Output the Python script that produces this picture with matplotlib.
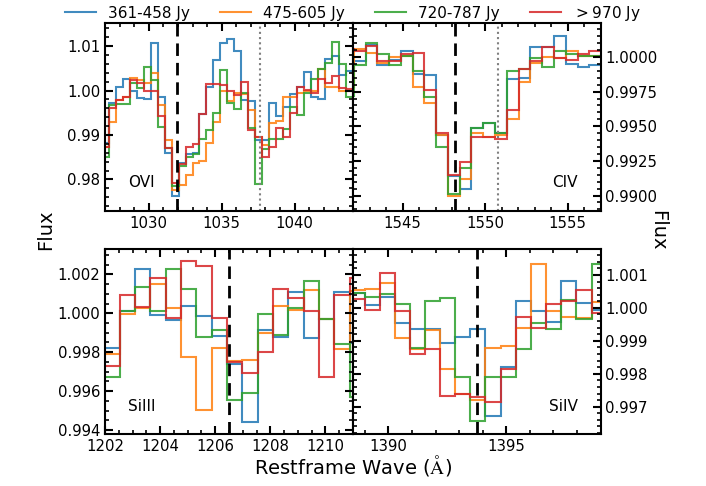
import numpy as np
import matplotlib.pyplot as plt
from matplotlib.ticker import MultipleLocator, ScalarFormatter

# spectra are binned on a log-lambda pixel grid, log10(wave) = dlog * pixel
dlog = 0.0002
ovi_pix = np.arange(15058, 15094)
civ_pix = np.arange(15940, 15962)
si3_pix = np.arange(15400, 15417)
si4_pix = np.arange(15713, 15730)

labels = ['361-458 Jy', '475-605 Jy', '720-787 Jy', r'$>$970 Jy']
colors = ['#1f77b4', '#ff7f0e', '#2ca02c', '#d62728']

# OVI
ovi_blue = [0.9881, 0.9973, 1.0008, 1.0026, 0.9998, 0.9983, 0.9981, 1.0107, 0.9986, 0.9860,
            0.9763, 0.9836, 0.9857, 0.9859, 0.9947, 1.0008, 1.0069, 1.0108, 1.0116, 1.0090,
            0.9979, 0.9977, 0.9889, 0.9889, 0.9971, 0.9943, 0.9962, 0.9992, 1.0009, 1.0041,
            0.9986, 0.9980, 1.0071, 1.0078, 1.0035, 1.0045]
ovi_orange = [0.9874, 0.9930, 0.9979, 0.9986, 1.0028, 1.0024, 1.0017, 1.0039, 0.9968, 0.9889,
              0.9776, 0.9787, 0.9810, 0.9838, 0.9842, 0.9881, 0.9930, 0.9998, 0.9977, 0.9995,
              0.9992, 0.9956, 0.9896, 0.9877, 0.9926, 0.9932, 0.9986, 0.9986, 0.9995, 0.9998,
              0.9998, 1.0048, 1.0008, 1.0008, 0.9998, 0.9998]
ovi_green = [0.9851, 0.9968, 0.9970, 0.9970, 1.0017, 1.0005, 1.0053, 1.0023, 0.9917, 0.9870,
             0.9785, 0.9830, 0.9850, 0.9857, 0.9890, 0.9911, 0.9950, 1.0047, 0.9971, 0.9959,
             0.9994, 0.9915, 0.9789, 0.9868, 0.9892, 0.9890, 0.9913, 0.9964, 0.9945, 0.9995,
             1.0026, 1.0048, 1.0063, 1.0110, 1.0059, 0.9986]
ovi_red = [0.9874, 0.9960, 0.9979, 0.9986, 1.0024, 1.0017, 0.9998, 0.9998, 0.9943, 0.9870,
           0.9791, 0.9835, 0.9874, 0.9880, 0.9947, 1.0015, 1.0015, 1.0013, 0.9998, 0.9990,
           1.0019, 0.9911, 0.9896, 0.9851, 0.9874, 0.9915, 0.9896, 0.9949, 1.0009, 1.0001,
           0.9995, 1.0026, 1.0018, 1.0033, 1.0005, 1.0003]

# CIV
civ_blue = [0.9992, 0.9997, 1.0009, 0.9994, 0.9998, 1.0004, 0.9988, 0.9987, 0.9944, 0.9914, 0.9905,
            0.9949, 0.9952, 0.9945, 0.9984, 0.9985, 1.0007, 1.0007, 1.0015, 0.9995, 0.9993, 0.9994]
civ_orange = [0.9978, 1.0006, 1.0003, 0.9996, 1.0000, 1.0001, 0.9978, 0.9967, 0.9944, 0.9900, 0.9912,
              0.9945, 0.9942, 0.9944, 0.9955, 0.9982, 0.9996, 1.0000, 0.9999, 1.0004, 1.0001, 1.0001]
civ_green = [0.9972, 0.9994, 1.0010, 1.0002, 0.9994, 1.0001, 0.9990, 0.9971, 0.9935, 0.9901, 0.9920,
             0.9949, 0.9952, 0.9945, 0.9990, 0.9991, 0.9999, 0.9993, 1.0004, 1.0002, 1.0001, 1.0001]
civ_red = [1.0006, 1.0004, 1.0008, 0.9997, 0.9997, 1.0002, 1.0003, 0.9976, 0.9945, 0.9915, 0.9924,
           0.9942, 0.9942, 0.9941, 0.9962, 0.9991, 0.9997, 1.0007, 0.9999, 0.9998, 1.0002, 1.0004]

# SiIII
si3_blue = [0.99820, 1.00013, 1.00227, 0.99991, 0.99965, 1.00039, 0.99986, 0.99883, 0.99739,
            0.99443, 0.99914, 0.99880, 1.00111, 0.99871, 0.99970, 1.00111, 0.99845]
si3_orange = [0.99790, 0.99996, 1.00025, 1.00148, 1.00029, 0.99777, 0.99503, 0.99823, 0.99756,
              0.99760, 0.99897, 1.00039, 1.00017, 1.00121, 0.99970, 0.99815, 1.00116]
si3_green = [0.99674, 1.00013, 1.00133, 1.00011, 1.00227, 1.00123, 0.99880, 0.99914, 0.99554,
             0.99592, 0.99996, 0.99888, 1.00025, 1.00167, 0.99970, 0.99842, 0.99571]
si3_red = [0.99729, 1.00094, 1.00034, 1.00179, 0.99974, 1.00270, 1.00243, 0.99977, 0.99751,
           0.99691, 0.99803, 1.00124, 1.00077, 1.00011, 0.99674, 1.00094, 1.00179]

# SiIV
si4_blue = [1.00046, 1.00009, 1.00032, 0.99953, 0.99935, 0.99935, 0.99892, 0.99913, 0.99935,
            0.99673, 0.99819, 1.00021, 0.99992, 0.99958, 1.00082, 1.00016, 0.99994]
si4_orange = [1.00054, 1.00056, 1.00077, 0.99908, 0.99874, 0.99933, 0.99814, 0.99739, 0.99720,
              0.99877, 0.99884, 0.99938, 1.00133, 0.99992, 0.99973, 0.99968, 1.00017]
si4_green = [1.00046, 1.00032, 1.00042, 1.00011, 0.99877, 1.00022, 1.00029, 0.99791, 0.99657,
             0.99791, 0.99791, 0.99874, 0.99955, 0.99935, 1.00024, 0.99965, 1.00132]
si4_red = [1.00026, 0.99994, 1.00105, 0.99992, 0.99859, 0.99874, 0.99732, 0.99739, 0.99728,
           0.99713, 0.99813, 0.99971, 0.99940, 1.00011, 1.00021, 1.00054, 0.99986]


def pixel_edges(pix):
    p = np.append(pix, pix[-1] + 1) - 0.5
    return 10 ** (dlog * p)


fig = plt.figure(figsize=(7.06, 4.86), dpi=100)
ax1 = fig.add_axes([0.1487, 0.5658, 0.3513, 0.3868])
ax2 = fig.add_axes([0.5000, 0.5658, 0.3506, 0.3868])
ax3 = fig.add_axes([0.1487, 0.1070, 0.3513, 0.3807])
ax4 = fig.add_axes([0.5000, 0.1070, 0.3506, 0.3807])

panels = [
    (ax1, ovi_pix, [ovi_blue, ovi_orange, ovi_green, ovi_red], 'OVI', [1031.93], [1037.62],
     (1027, 1044), (0.9729, 1.0152), 5, 1, 0.01, 0.002),
    (ax2, civ_pix, [civ_blue, civ_orange, civ_green, civ_red], 'CIV', [1548.19], [1550.77],
     (1542, 1557), (0.98888, 1.00245), 5, 1, 0.0025, 0.0005),
    (ax3, si3_pix, [si3_blue, si3_orange, si3_green, si3_red], 'SiIII', [1206.50], [],
     (1202, 1211), (0.9938, 1.0033), 2, 0.5, 0.002, 0.0005),
    (ax4, si4_pix, [si4_blue, si4_orange, si4_green, si4_red], 'SiIV', [1393.76], [],
     (1388.5, 1399), (0.99617, 1.00179), 5, 1, 0.001, 0.0002),
]

handles = []
for n, (ax, pix, series, name, dash, dot, xl, yl, xmaj, xmin, ymaj, ymin) in enumerate(panels):
    edges = pixel_edges(pix)
    for flux, c, lab in zip(series, colors, labels):
        h = ax.stairs(flux, edges, baseline=None, color=c, lw=1.5, alpha=0.85, label=lab)
        if n == 0:
            handles.append(h)
    for w in dash:
        ax.axvline(w, color='k', ls=(0, (4.5, 2.5)), lw=2)
    for w in dot:
        ax.axvline(w, color='gray', ls=(0, (1, 1.5)), lw=1.5)
    ax.set_xlim(*xl)
    ax.set_ylim(*yl)
    ax.xaxis.set_major_locator(MultipleLocator(xmaj))
    ax.xaxis.set_minor_locator(MultipleLocator(xmin))
    ax.yaxis.set_major_locator(MultipleLocator(ymaj))
    ax.yaxis.set_minor_locator(MultipleLocator(ymin))
    ax.yaxis.set_major_formatter(ScalarFormatter(useOffset=False))
    right = n in (1, 3)
    ax.tick_params(which='both', direction='in', top=True, bottom=True, left=True, right=True,
                   labelleft=not right, labelright=right, labelsize=10.7)
    ax.tick_params(which='major', length=6, width=1.5)
    ax.tick_params(which='minor', length=3, width=1.2)
    for s in ax.spines.values():
        s.set_linewidth(1.5)
    if right:
        ax.text(0.907, 0.15, name, transform=ax.transAxes, ha='right', va='center', fontsize=11)
    else:
        ax.text(0.093, 0.15, name, transform=ax.transAxes, ha='left', va='center', fontsize=11)

fig.legend(handles=handles, loc='upper center', bbox_to_anchor=(0.5, 1.008), ncol=4,
           frameon=False, fontsize=11, handlelength=2.0, columnspacing=2.0, borderaxespad=0.1)
fig.text(46 / 706, 1 - 230 / 486, 'Flux', rotation=90, ha='center', va='center', fontsize=14)
fig.text(658 / 706, 1 - 230 / 486, 'Flux', rotation=270, ha='center', va='center', fontsize=14)
fig.text(353 / 706, 1 - 465 / 486, r'Restframe Wave ($\rm\AA$)', ha='center', va='center',
         fontsize=14, math_fontfamily='cm')

plt.savefig('out.png', dpi=100)
